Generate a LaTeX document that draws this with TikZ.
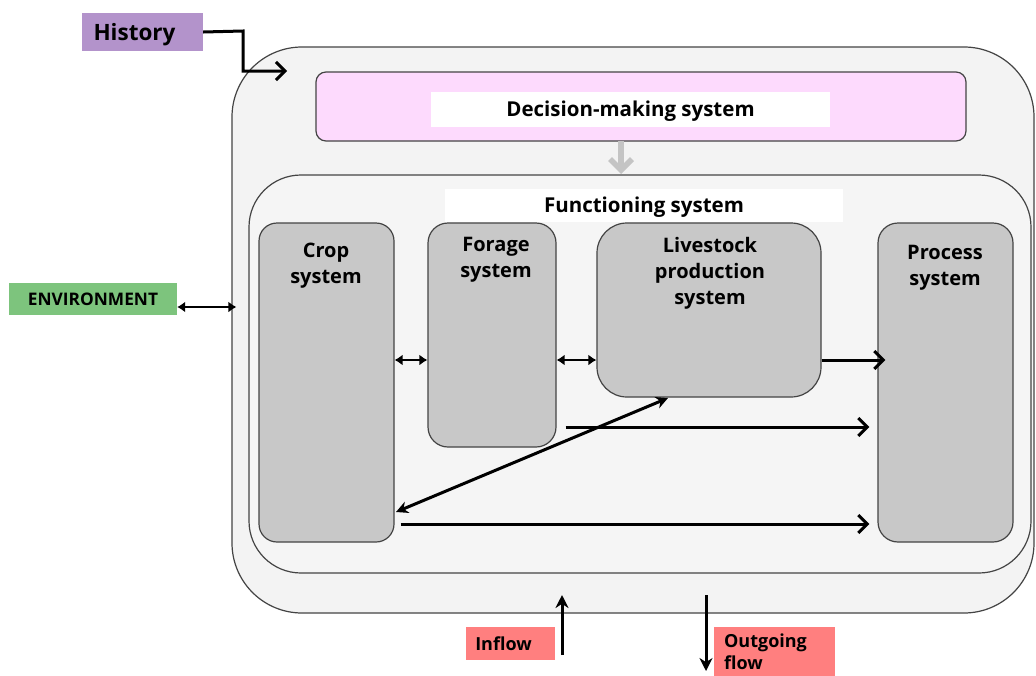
\documentclass[tikz,border=0pt]{standalone}
\usepackage{fontspec}
\setmainfont{Open Sans}
\usetikzlibrary{arrows.meta,calc}
\definecolor{outerfill}{HTML}{F3F3F3}
\definecolor{innerfill}{HTML}{F5F5F5}
\definecolor{pinkfill}{HTML}{FDDAFD}
\definecolor{boxgray}{HTML}{C8C8C8}
\definecolor{histfill}{HTML}{B393CB}
\definecolor{envfill}{HTML}{7DC47D}
\definecolor{flowfill}{HTML}{FF7F7F}
\definecolor{edgegray}{HTML}{444444}
\definecolor{arrowgray}{HTML}{C4C4C4}
\tikzset{
  container/.style={draw=edgegray, line width=1.2pt, fill=outerfill, inner sep=0pt},
  subbox/.style={draw=edgegray, line width=1.2pt, fill=boxgray, inner sep=0pt},
  tag/.style={inner sep=0pt, font=\bfseries},
  whitelabel/.style={fill=white, inner sep=0pt, text height=16.6pt, text depth=2pt, font=\bfseries\fontsize{20.5}{24}\selectfont},
  boxtext/.style={align=center, inner sep=0pt, font=\bfseries\fontsize{20}{26}\selectfont},
  flow/.style={line width=3pt, -{Straight Barb[length=9pt,width=18pt,line width=3pt]}},
  smallboth/.style={line width=2.6pt, {Latex[length=8pt,width=11pt]}-{Latex[length=8pt,width=11pt]}},
}
\begin{document}
\begin{tikzpicture}[x=1pt,y=-1pt]
\useasboundingbox (0,0) rectangle (1036,675);
% outer container
\node[container, rounded corners=70pt, minimum width=802pt, minimum height=566pt] (outer) at (633,330) {};
% decision-making
\node[draw=edgegray, line width=1.2pt, fill=pinkfill, rounded corners=10pt, inner sep=0pt,
      minimum width=650pt, minimum height=69pt] (decision) at (641,106.5) {};
\node[whitelabel, minimum width=399pt, minimum height=35pt] (declabel) at (630.5,109.5) {Decision-making system};
% functioning
\node[container, rounded corners=52pt, minimum width=782pt, minimum height=398pt, fill=innerfill] (func) at (640,374) {};
\node[whitelabel, minimum width=398pt, minimum height=33pt] (funclabel) at (644,205.5) {Functioning system};
% gray arrow
\coordinate (ga) at (621,141);
\coordinate (gb) at (621,174);
\draw[arrowgray, line width=5.5pt, -{Straight Barb[length=11pt,width=22pt,line width=5.5pt]}] (ga) -- (gb);
% subsystems
\node[subbox, rounded corners=18pt, minimum width=135pt, minimum height=319pt] (crop) at (326.5,382.5) {};
\node[subbox, rounded corners=20pt, minimum width=128pt, minimum height=224pt] (forage) at (492,335) {};
\node[subbox, rounded corners=30pt, minimum width=224pt, minimum height=174pt] (live) at (709,310) {};
\node[subbox, rounded corners=20pt, minimum width=135pt, minimum height=319pt] (proc) at (945.5,382.5) {};
\node[boxtext] (croptxt) at (326,266) {Crop\\system};
\node[boxtext] (foragetxt) at (496,260) {Forage\\system};
\node[boxtext] (livetxt) at (710,273) {Livestock\\production\\system};
\node[boxtext] (proctxt) at (945,268) {Process\\system};
% outside tags
\node[tag, fill=histfill, minimum width=121pt, minimum height=38pt, text height=17pt, text depth=1pt, font=\bfseries\fontsize{22.5}{26}\selectfont] (hist) at (142.5,32) {\hspace*{-16pt}History};
\node[tag, fill=envfill, minimum width=168pt, minimum height=32pt, text height=13.5pt, text depth=1pt, font=\bfseries\fontsize{17.3}{20}\selectfont] (env) at (93,299) {ENVIRONMENT};
\node[tag, fill=flowfill, minimum width=89pt, minimum height=33pt, font=\bfseries\fontsize{18}{23}\selectfont] (inflow) at (510.5,643.5) {\hspace*{-14pt}Inflow};
\node[tag, fill=flowfill, minimum width=121pt, minimum height=50pt, align=left, font=\bfseries\fontsize{18}{22}\selectfont] (outflow) at (774.5,651.5) {\hspace*{-18pt}Outgoing\\\hspace*{-18pt}flow};
% connectors
\coordinate (hend) at (287,71);
\draw[flow] (hist.east) -- (243,31) -- (243,71) -- (hend);
\coordinate (envy) at (0,307);
\draw[smallboth] (env.east |- envy) -- ([xshift=5pt]outer.west |- envy);
\coordinate (ry) at (0,360);
\draw[smallboth] (crop.east |- ry) -- (forage.west |- ry);
\draw[smallboth] (forage.east |- ry) -- (live.west |- ry);
\draw[flow] (live.east |- ry) -- ([xshift=8pt]proc.west |- ry);
\coordinate (r2) at (0,427);
\draw[flow] ([xshift=9pt]forage.east |- r2) -- ([xshift=-8pt]proc.west |- r2);
\coordinate (r3) at (0,524);
\draw[flow] ([xshift=6pt]crop.east |- r3) -- ([xshift=-8pt]proc.west |- r3);
\coordinate (dA) at (668,398);
\coordinate (dB) at (396,512);
\draw[line width=3pt, {Stealth[length=12pt,width=12pt]}-{Stealth[length=12pt,width=12pt]}] (dB) -- (dA);
\coordinate (inA) at (562,655);
\coordinate (inB) at (562,595);
\draw[line width=3pt, -{Stealth[length=13pt,width=13pt]}] (inA) -- (inB);
\coordinate (outA) at (706,595);
\coordinate (outB) at (706,671);
\draw[line width=3pt, -{Stealth[length=13pt,width=13pt]}] (outA) -- (outB);
\end{tikzpicture}
\end{document}
